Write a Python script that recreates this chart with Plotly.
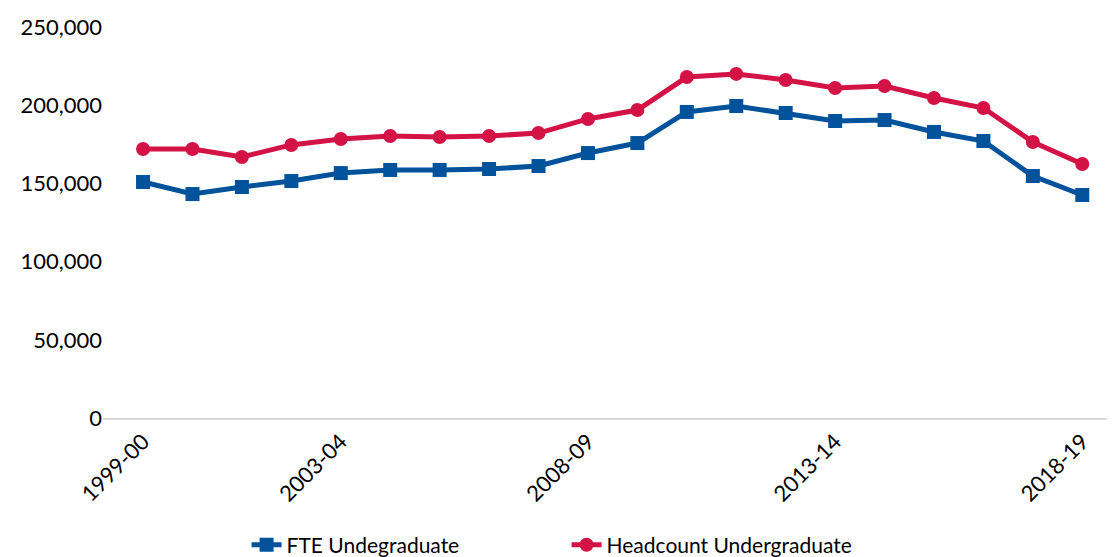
import plotly.graph_objects as go

years = ["1999-00","2000-01","2001-02","2002-03","2003-04","2004-05","2005-06","2006-07",
         "2007-08","2008-09","2009-10","2010-11","2011-12","2012-13","2013-14","2014-15",
         "2015-16","2016-17","2017-18","2018-19"]
fte = [150900,143200,147700,151500,156600,158600,158600,159200,161100,169400,
       175800,195700,199500,195000,189900,190500,182900,177100,154700,142600]
headcount = [172000,172000,166900,174600,178400,180300,179700,180300,182200,191200,
             196900,218000,220000,216100,211000,212300,204600,198200,176500,162400]
tick_labels = ["1999-00","2003-04","2008-09","2013-14","2018-19"]

FONT = "Lato"
x_idx = list(range(len(years)))
tickvals = [years.index(t) for t in tick_labels]

fig = go.Figure()
fig.add_trace(go.Scatter(x=x_idx, y=fte, name="FTE Undegraduate", mode="lines+markers",
                         line=dict(color="#00529B", width=5),
                         marker=dict(symbol="square", size=14, color="#00529B")))
fig.add_trace(go.Scatter(x=x_idx, y=headcount, name="Headcount Undergraduate", mode="lines+markers",
                         line=dict(color="#D31245", width=5),
                         marker=dict(symbol="circle", size=14, color="#D31245")))

fig.update_layout(
    width=1117, height=557,
    margin=dict(l=95, r=18, t=19, b=147, autoexpand=False),
    paper_bgcolor="white", plot_bgcolor="white",
    font=dict(family=FONT, size=22, color="#000000"),
    showlegend=True,
    legend=dict(orientation="h", x=0.143, xanchor="left", y=-0.325, yanchor="middle",
                font=dict(size=21), entrywidth=275, entrywidthmode="pixels",
                traceorder="normal"),
    xaxis=dict(range=[-0.81, 19.5], tickmode="array", tickvals=tickvals, ticktext=tick_labels,
               tickangle=-45, showgrid=False, zeroline=False, showline=True, automargin=False,
               linecolor="#D9D9D9", linewidth=2, ticks="", tickfont=dict(size=22)),
    yaxis=dict(range=[0, 250000], tickvals=[0,50000,100000,150000,200000,250000],
               tickformat=",d", showgrid=False, zeroline=False, showline=False, automargin=False,
               ticks="", ticklabelstandoff=0, tickfont=dict(size=22)),
)
fig.write_html("out.html")
